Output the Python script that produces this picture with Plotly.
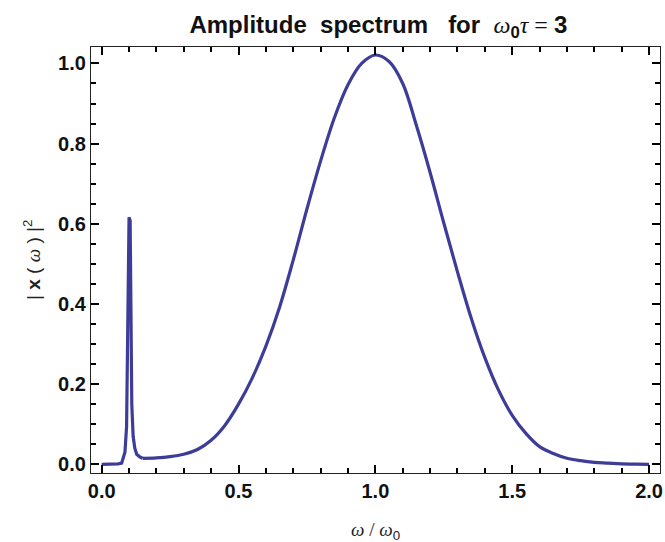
import plotly.graph_objects as go

# Narrow resonance near omega/omega0 = 0.1
spike_x = [0.0, 0.02, 0.04, 0.06, 0.073, 0.085, 0.091, 0.097, 0.100, 0.104, 0.107, 0.110, 0.115, 0.121, 0.128, 0.140, 0.150]
spike_y = [0.0, 0.0, 0.0, 0.001, 0.003, 0.03, 0.094, 0.37, 0.616, 0.608, 0.35, 0.15, 0.07, 0.04, 0.025, 0.018, 0.015]

# Broad peak around omega/omega0 = 1
bump_x = [0.15, 0.20, 0.25, 0.30, 0.35, 0.40, 0.45, 0.50, 0.55, 0.60, 0.65, 0.70, 0.75, 0.80, 0.85,
          0.90, 0.95, 1.00, 1.05, 1.10, 1.15, 1.20, 1.25, 1.30, 1.35, 1.40, 1.45, 1.50, 1.55, 1.60,
          1.65, 1.70, 1.75, 1.80, 1.85, 1.90, 1.95, 2.00]
bump_y = [0.015, 0.016, 0.019, 0.025, 0.037, 0.060, 0.097, 0.150, 0.215, 0.295, 0.392, 0.510, 0.637,
          0.757, 0.864, 0.947, 1.000, 1.021, 1.005, 0.950, 0.845, 0.728, 0.602, 0.480, 0.365, 0.266,
          0.185, 0.122, 0.077, 0.044, 0.027, 0.015, 0.009, 0.005, 0.003, 0.001, 0.0005, 0.0]

x_ticks = [0.0, 0.5, 1.0, 1.5, 2.0]
x_tick_labels = ["0.0", "0.5", "1.0", "1.5", "2.0"]
y_ticks = [0.0, 0.2, 0.4, 0.6, 0.8, 1.0]
y_tick_labels = ["0.0", "0.2", "0.4", "0.6", "0.8", "1.0"]

LINE = "#3d3d99"
SERIF = "Liberation Serif"
SANS = "Liberation Sans"
TICK = "#000000"

fig = go.Figure()
fig.add_trace(go.Scatter(x=spike_x, y=spike_y, mode="lines",
                         line=dict(color=LINE, width=3.2), showlegend=False, hoverinfo="skip"))
fig.add_trace(go.Scatter(x=bump_x, y=bump_y, mode="lines",
                         line=dict(color=LINE, width=3.2, shape="spline", smoothing=1.0),
                         showlegend=False, hoverinfo="skip"))

axis_common = dict(
    showgrid=False, zeroline=False, showline=True, linecolor="#222222", linewidth=1.3,
    mirror="allticks", ticks="inside", ticklen=8, tickwidth=1.5, tickcolor=TICK,
    automargin=False, layer="above traces",
    tickfont=dict(family=SANS, size=20, color="#111111", weight="bold"),
)

fig.update_xaxes(range=[-0.039, 2.04], tickmode="array", tickvals=x_ticks, ticktext=x_tick_labels,
                 minor=dict(dtick=0.1, tick0=0, ticks="inside", ticklen=5, tickcolor=TICK, tickwidth=1.5),
                 **axis_common)
fig.update_yaxes(range=[-0.0217, 1.041], tickmode="array", tickvals=y_ticks, ticktext=y_tick_labels,
                 minor=dict(dtick=0.05, tick0=0, ticks="inside", ticklen=5, tickcolor=TICK, tickwidth=1.5),
                 **axis_common)

nb = "\u00a0"
title_text = ("<b>Amplitude" + nb * 2 + "spectrum" + nb * 3 + "for" + nb * 2 + "</b>"
              f"<span style='font-family:{SERIF}'><i>ω</i></span><sub><b>0</b></sub>"
              f"<span style='font-family:{SERIF}'><i>τ</i> = </span><b>3</b>")

fig.update_layout(
    width=665, height=542,
    margin=dict(l=91, r=5, t=47, b=69, autoexpand=False),
    paper_bgcolor="white", plot_bgcolor="white",
    title=dict(text=title_text, x=0.505, xref="paper", xanchor="center",
               y=1 - 25 / 542, yref="container", yanchor="middle", automargin=False,
               font=dict(family=SANS, size=24, color="#111111")),
    annotations=[
        dict(text=f"|{nb}<b>x</b>{nb}({nb}<span style='font-family:{SERIF}'><i>ω</i></span>{nb}){nb}|<sup>2</sup>",
             xref="paper", yref="paper", x=0, y=0.5, xshift=-59, textangle=-90,
             xanchor="center", yanchor="middle", showarrow=False,
             font=dict(family=SANS, size=19, color="#222222")),
        dict(text=f"<span style='font-family:{SERIF}'><i>ω</i> / <i>ω</i></span><sub>0</sub>",
             xref="paper", yref="paper", x=0.5, y=0, yshift=-58,
             xanchor="center", yanchor="middle", showarrow=False,
             font=dict(family=SANS, size=19, color="#222222")),
    ],
)

fig.write_html("out.html", config={"displayModeBar": False},
               post_script="document.body.style.margin='0';")
